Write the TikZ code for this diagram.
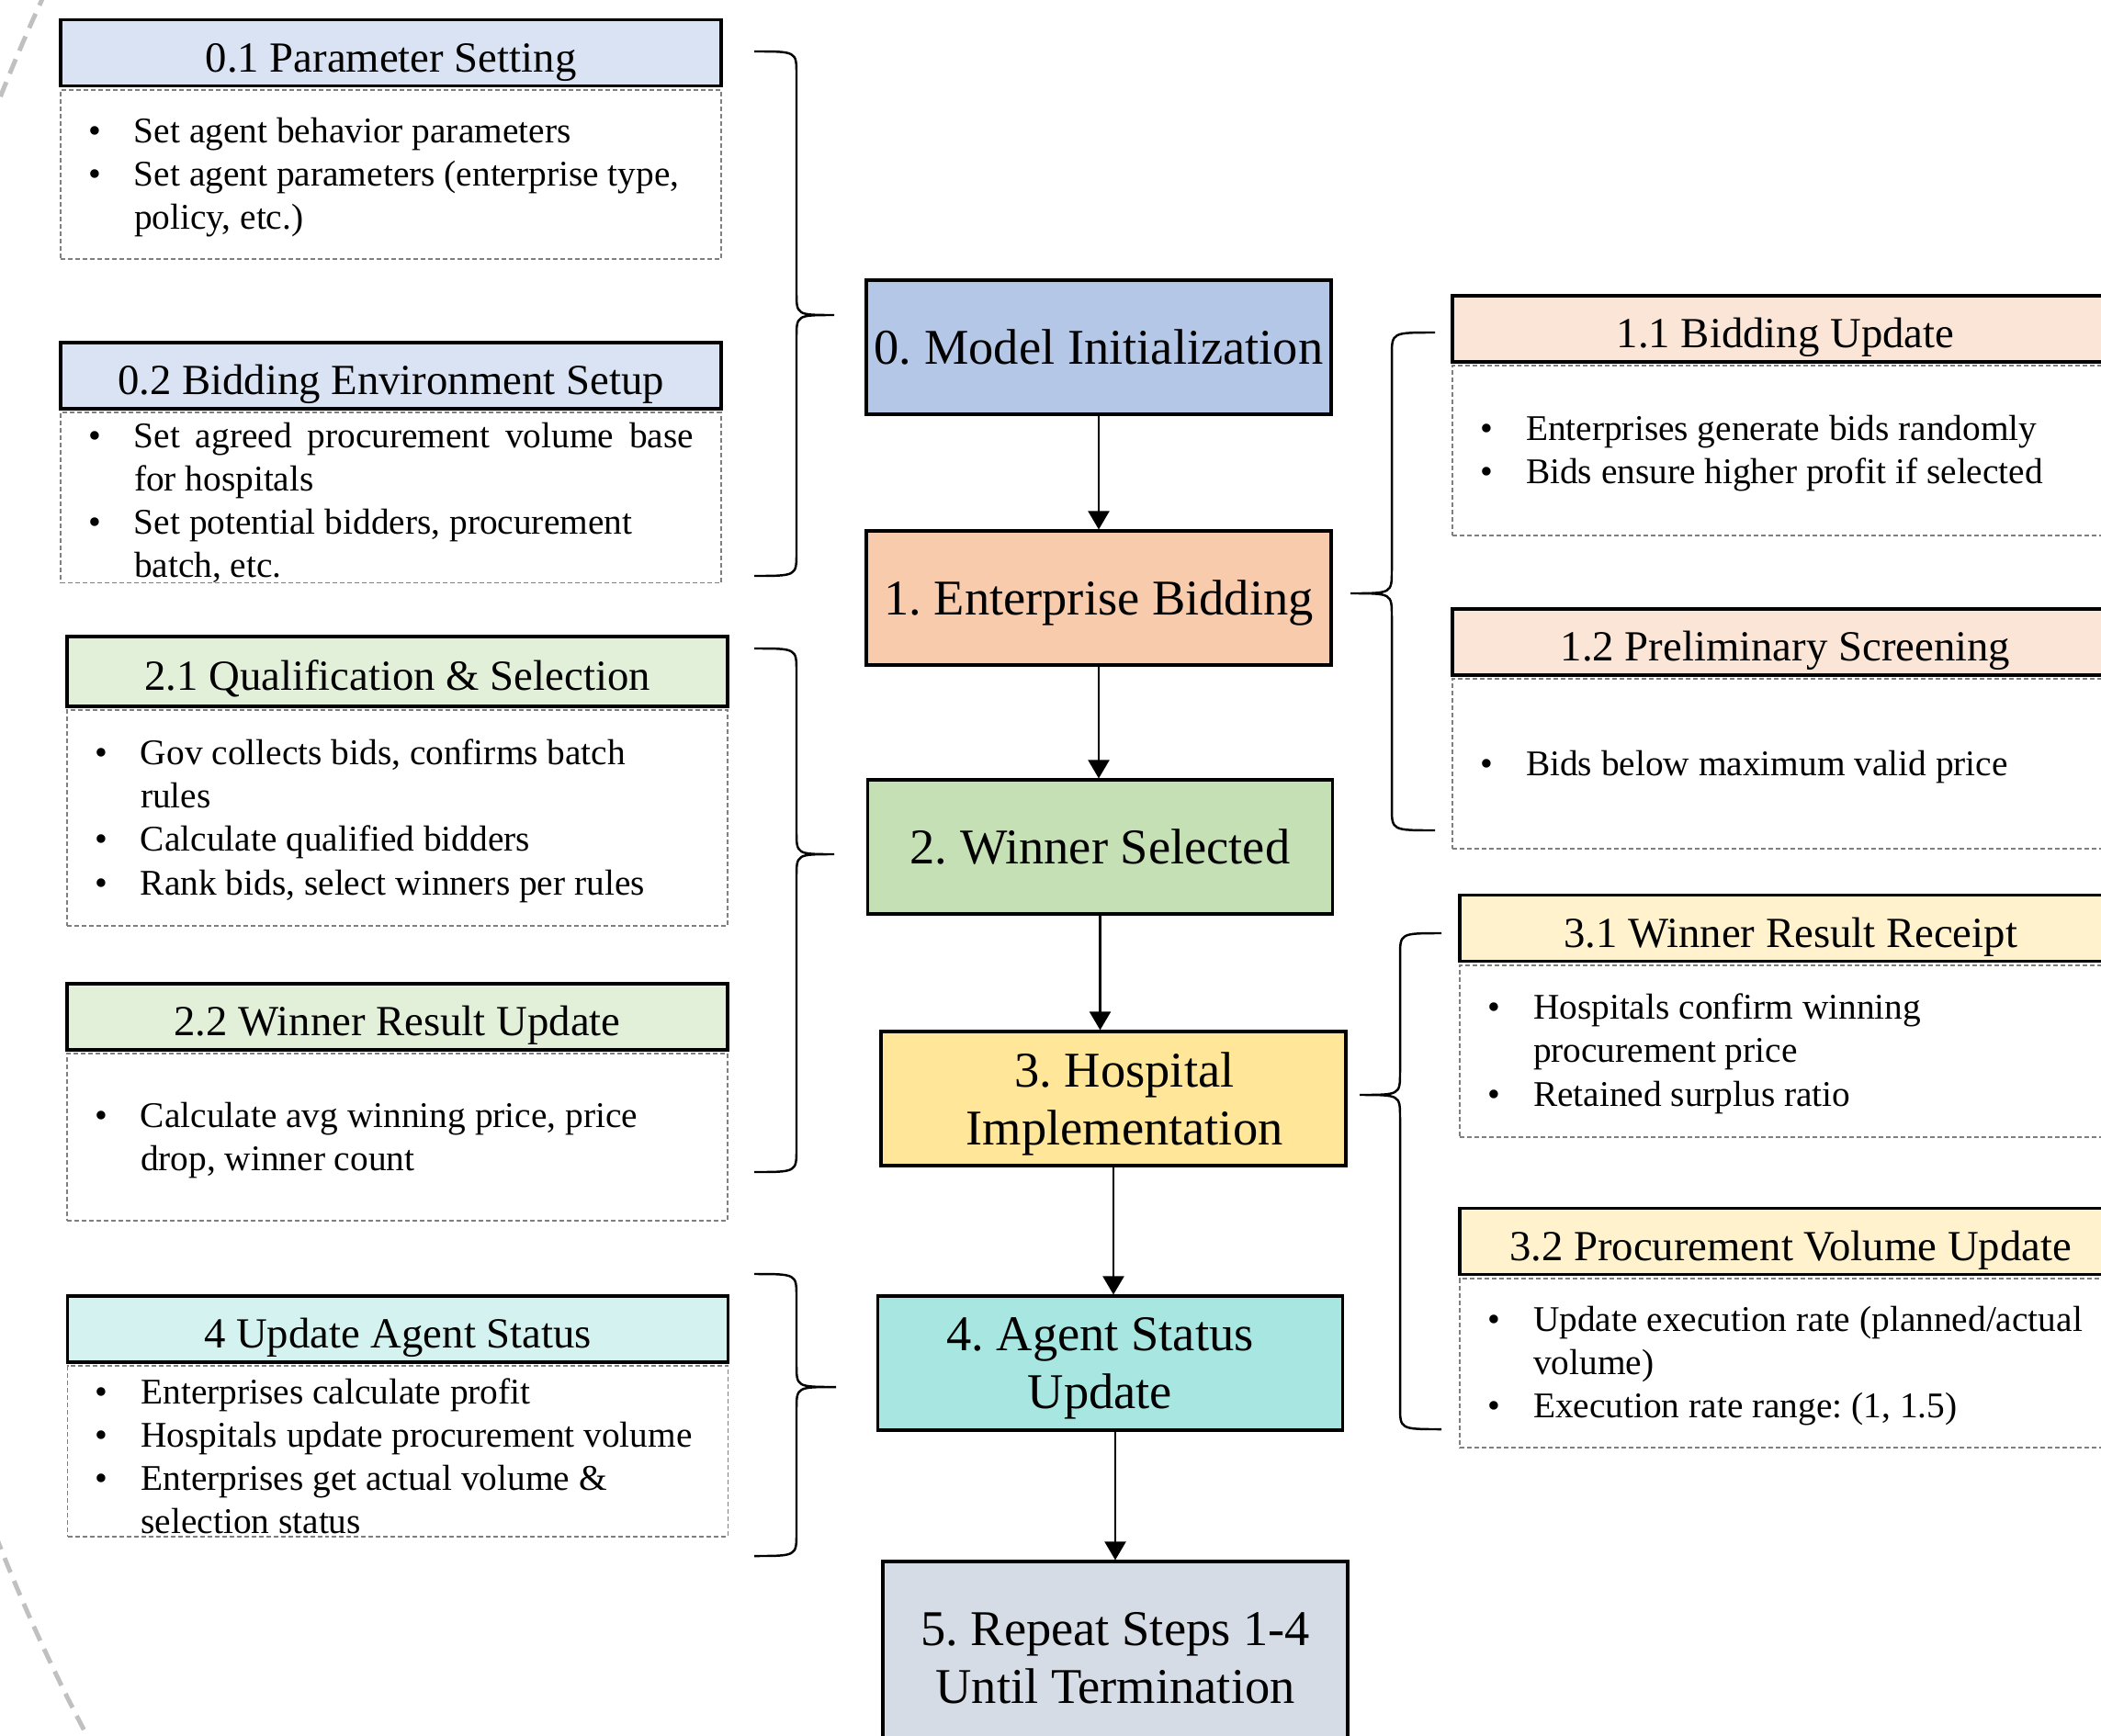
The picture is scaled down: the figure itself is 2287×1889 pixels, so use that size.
\documentclass[tikz,border=0pt]{standalone}
\usepackage{fontspec}
\setmainfont{Liberation Serif}
\usetikzlibrary{arrows.meta}
\definecolor{mainblue}{HTML}{B4C7E7}
\definecolor{hdrblue}{HTML}{DAE3F3}
\definecolor{mainpeach}{HTML}{F8CBAD}
\definecolor{hdrpeach}{HTML}{FBE5D6}
\definecolor{maingreen}{HTML}{C5E0B4}
\definecolor{hdrgreen}{HTML}{E2F0D9}
\definecolor{mainyellow}{HTML}{FFE699}
\definecolor{hdryellow}{HTML}{FFF2CC}
\definecolor{maincyan}{HTML}{A8E6E1}
\definecolor{hdrcyan}{HTML}{D4F3F0}
\definecolor{maingray}{HTML}{D6DCE5}
\definecolor{dashgray}{HTML}{7F7F7F}
\definecolor{ringgray}{HTML}{C0C0C0}
\newcommand{\bitem}[1]{\par\spaceskip=0pt\xspaceskip=0pt\hangindent=6.5mm\hangafter=1\noindent\makebox[6.5mm][l]{\hspace{1.5mm}\textbullet}#1\par}
\newcommand{\bodyend}{\par\vspace{1.3mm}}
\newcommand{\bodytop}{\vspace*{-0.9mm}}
\begin{document}
\frenchspacing
\begin{tikzpicture}[x=0.1mm, y=-0.1mm,
    mainbox/.style={draw=black, line width=0.9pt, minimum width=50.6mm, minimum height=14.6mm, inner sep=0.5mm, text depth=0pt, align=center, font=\fontsize{15.5}{17.8}\selectfont},
    hdrbox/.style={draw=black, line width=0.9pt, minimum width=71.9mm, minimum height=7.2mm, inner sep=0.5mm, text height=5mm, text depth=0.9mm, font=\fontsize{13.3}{16}\selectfont},
    bodybox/.style={draw=dashgray, line width=0.55pt, dash pattern=on 0.5mm off 0.3mm, inner xsep=1.5mm, inner ysep=0pt, text width=68.9mm, align=left, anchor=north, yshift=-0.15mm, font=\fontsize{11.2}{13.4}\selectfont},
    padbody/.style={execute at end node=\bodyend},
    tightbody/.style={execute at begin node=\bodytop},
    flowarrow/.style={-{Triangle[width=2.3mm,length=2mm]}, line width=0.6pt},
    bracepen/.style={line width=0.7pt},
    ringdash/.style={draw=ringgray, line width=1.4pt, dash pattern=on 1.7mm off 1mm}]
    \useasboundingbox (0,0) rectangle (2287,1889);
    \clip (0,0) rectangle (2287,1889);
    % Dashed ring on the left
    \draw[ringdash] (1990,895) circle[radius=2140];
    % Main steps
    \node[mainbox, fill=mainblue] (n0) at (1196,378) {0. Model Initialization};
    \node[mainbox, fill=mainpeach] (n1) at (1196,651) {1. Enterprise Bidding};
    \node[mainbox, fill=maingreen] (n2) at (1197.5,922) {2. Winner Selected};
    \node[mainbox, fill=mainyellow] (n3) at (1212,1196) {\hspace*{2.4mm}3. Hospital\\\hspace*{2.4mm}Implementation};
    \node[mainbox, fill=maincyan] (n4) at (1208.5,1484) {4. Agent Status\hspace*{2.2mm}\\Update\hspace*{2.2mm}};
    \node[mainbox, fill=maingray, minimum height=21mm] (n5) at (1214,1805) {5. Repeat Steps 1-4\\Until Termination};
    \draw[flowarrow] (n0.south) -- (n0.south |- n1.north);
    \draw[flowarrow] (n1.south) -- (n1.south |- n2.north);
    \draw[flowarrow] (n2.south) -- (n2.south |- n3.north);
    \draw[flowarrow] (n3.south) -- (n3.south |- n4.north);
    \draw[flowarrow] (n5.north |- n4.south) -- (n5.north);
    % Step 0 details
    \node[hdrbox, fill=hdrblue] (h01) at (425.5,57.5) {0.1 Parameter Setting};
    \node[bodybox, padbody, minimum height=18.4mm] (b01) at (h01.south) {\bitem{Set agent behavior parameters}\bitem{Set agent parameters (enterprise type,\newline policy, etc.)}};
    \node[hdrbox, fill=hdrblue] (h02) at (425.5,409) {0.2 Bidding Environment Setup};
    \node[bodybox, tightbody, minimum height=18.5mm] (b02) at (h02.south) {\bitem{\makebox[60.9mm][s]{Set agreed procurement volume base}\newline for hospitals}\bitem{Set potential bidders, procurement\newline batch, etc.}};
    % Step 2 details
    \node[hdrbox, fill=hdrgreen, minimum height=7.6mm] (h21) at (432.5,731) {2.1 Qualification \& Selection};
    \node[bodybox, padbody, minimum height=23.5mm] (b21) at (h21.south) {\bitem{Gov collects bids, confirms batch\newline rules}\bitem{Calculate qualified bidders}\bitem{Rank bids, select winners per rules}};
    \node[hdrbox, fill=hdrgreen] (h22) at (432.5,1107) {2.2 Winner Result Update};
    \node[bodybox, padbody, minimum height=18.2mm] (b22) at (h22.south) {\bitem{Calculate avg winning price, price\newline drop, winner count}};
    % Step 4 details
    \node[hdrbox, fill=hdrcyan] (h4) at (433,1447) {4 Update Agent Status};
    \node[bodybox, tightbody, minimum height=18.6mm] (b4) at (h4.south) {\bitem{Enterprises calculate profit}\bitem{Hospitals update procurement volume}\bitem{Enterprises get actual volume \&\newline selection status}};
    % Step 1 details
    \node[hdrbox, fill=hdrpeach, minimum width=72.5mm] (h11) at (1943.5,358) {1.1 Bidding Update};
    \node[bodybox, padbody, minimum height=18.5mm, text width=69.5mm] (b11) at (h11.south) {\bitem{Enterprises generate bids randomly}\bitem{Bids ensure higher profit if selected}};
    \node[hdrbox, fill=hdrpeach, minimum width=72.5mm] (h12) at (1943.5,699) {1.2 Preliminary Screening};
    \node[bodybox, padbody, minimum height=18.5mm, text width=69.5mm] (b12) at (h12.south) {\bitem{Bids below maximum valid price}};
    % Step 3 details
    \node[hdrbox, fill=hdryellow, minimum width=72mm] (h31) at (1949,1010.5) {3.1 Winner Result Receipt};
    \node[bodybox, padbody, minimum height=18.7mm, text width=69mm] (b31) at (h31.south) {\bitem{Hospitals confirm winning\newline procurement price}\bitem{Retained surplus ratio}};
    \node[hdrbox, fill=hdryellow, minimum width=72mm] (h32) at (1949,1351.5) {3.2 Procurement Volume Update};
    \node[bodybox, padbody, minimum height=18.4mm, text width=69mm] (b32) at (h32.south) {\bitem{Update execution rate (planned/actual\newline volume)}\bitem{Execution rate range: (1, 1.5)}};
    % Braces
    \draw[bracepen] (821,56) .. controls (867,56) .. (867,81) -- (867,318) .. controls (867,343) .. (908,343) .. controls (867,343) .. (867,368) -- (867,602) .. controls (867,627) .. (821,627);
    \draw[bracepen] (821,706) .. controls (867,706) .. (867,731) -- (867,905) .. controls (867,930) .. (908,930) .. controls (867,930) .. (867,955) -- (867,1251) .. controls (867,1276) .. (821,1276);
    \draw[bracepen] (821,1387) .. controls (867,1387) .. (867,1412) -- (867,1485) .. controls (867,1510) .. (910,1510) .. controls (867,1510) .. (867,1535) -- (867,1669) .. controls (867,1694) .. (821,1694);
    \draw[bracepen] (1562,362) .. controls (1515,362) .. (1515,387) -- (1515,621) .. controls (1515,646) .. (1470,646) .. controls (1515,646) .. (1515,671) -- (1515,879) .. controls (1515,904) .. (1562,904);
    \draw[bracepen] (1569,1016) .. controls (1524,1016) .. (1524,1041) -- (1524,1167) .. controls (1524,1192) .. (1480,1192) .. controls (1524,1192) .. (1524,1217) -- (1524,1531) .. controls (1524,1556) .. (1569,1556);
\end{tikzpicture}
\end{document}
